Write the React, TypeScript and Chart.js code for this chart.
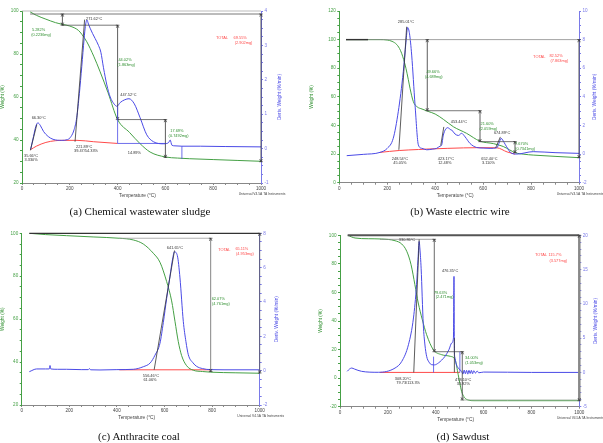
import { useEffect, useRef } from "react";
import { Chart, registerables } from "chart.js";

Chart.register(...registerables);

const SANS = "'Liberation Sans', Arial, sans-serif";
const SERIF = "'Liberation Serif', 'Times New Roman', serif";
const GREEN = "#45a045";
const GREEN_TEXT = "#2f8f2f";
const BLUE = "#4a4ae6";
const RED = "#ff4a4a";
const DARK = "#333";
const GRAY = "#8a8a8a";

// (a) Chemical wastewater sludge
const tempWeightA = [34, 60, 100, 140, 169, 200, 236, 250, 271, 300, 327, 360, 400, 450, 494, 536, 600, 650, 700, 800, 900, 1000];
const weightA = [99.6, 98.0, 96.2, 94.6, 93.8, 93.0, 91.0, 89.2, 85.7, 79.0, 71.7, 62.0, 49.5, 43.5, 38.3, 34.4, 32.1, 31.6, 31.3, 30.9, 30.5, 30.1];
const tempDerivA = [36, 48, 58, 66.3, 76, 90, 110, 130, 166, 190, 205, 218, 229, 240, 250, 260, 265, 271.62, 278, 285, 295, 306, 320, 330, 341, 355, 369, 385, 397, 411, 430, 447.52, 470, 494, 522, 550, 592, 606, 614, 620, 627, 640, 669, 746, 850, 1000];
const derivA = [-0.03, 0.35, 0.65, 0.75, 0.68, 0.5, 0.35, 0.27, 0.24, 0.26, 0.35, 0.55, 0.9, 1.6, 2.38, 3.2, 3.55, 3.74, 3.62, 3.5, 3.35, 3.2, 3.0, 2.8, 2.35, 1.85, 1.5, 1.3, 1.23, 1.34, 1.42, 1.45, 1.3, 0.9, 0.4, 0.2, 0.14, 0.15, 0.18, 0.25, 0.1, 0.08, 0.07, 0.07, 0.06, 0.05];
const tempBaseA = [36, 60, 100, 140, 169, 230, 300, 400];
const baseA = [-0.03, 0.07, 0.18, 0.23, 0.24, 0.24, 0.2, 0.15];

// (b) Waste electric wire
const tempWeightB = [28, 120, 170, 200, 220, 240, 255, 265, 278, 288, 295, 309, 325, 345, 371, 400, 434, 476, 531, 587, 643, 684, 710, 733, 770, 809, 900, 1000];
const weightB = [100, 100, 100, 99.7, 98.8, 96.5, 92.5, 88, 80, 72, 66, 56.6, 53, 51.5, 49.8, 48, 44.3, 39.1, 34.5, 29.0, 27.3, 25.3, 23, 21, 19.9, 19.3, 18.4, 17.5];
const tempDerivB = [31, 100, 170, 200, 225, 246, 267, 278, 285.01, 293, 302, 316, 330, 345, 365, 390, 406, 420, 427, 434, 453.44, 462, 469, 483, 497, 510, 525, 545, 573, 600, 629, 657, 666, 674.89, 688, 698, 719, 740, 809, 900, 1000];
const derivB = [-0.11, -0.02, 0.12, 0.4, 1.1, 2.96, 5.76, 7.8, 8.85, 8.4, 6.92, 3.43, 0.63, 0.4, 0.3, 0.35, 0.4, 0.55, 0.63, 1.33, 1.85, 1.72, 1.68, 1.4, 1.3, 1.45, 1.2, 0.75, 0.46, 0.42, 0.4, 0.44, 0.75, 1.1, 0.8, 0.51, 0.05, 0.0, 0.17, 0.1, 0.05];
const tempBaseB = [170, 250, 330, 365, 450, 587, 657, 700, 733];
const baseB = [0.12, 0.25, 0.32, 0.35, 0.4, 0.45, 0.44, 0.15, 0.0];

// (c) Anthracite coal
const tempWeightC = [32, 100, 189, 300, 410, 469, 511, 553, 581, 609, 630, 644, 658, 672, 693, 721, 760, 794, 900, 1000];
const weightC = [100, 99.4, 98.9, 98.3, 97.7, 96.9, 95.0, 90.7, 86.5, 77.5, 68.5, 59.0, 49.5, 43.0, 38.3, 36.2, 35.6, 35.3, 35.0, 34.8];
const tempDerivC = [32, 63, 100, 116, 119, 122, 150, 189, 250, 280, 284, 290, 329, 400, 469, 511, 540, 560, 581, 595, 609, 623, 634, 641.65, 654, 665, 679, 690, 700, 720, 735, 760, 791, 850, 1000];
const derivC = [-0.06, 0.1, 0.1, 0.1, 0.3, 0.1, 0.08, 0.08, 0.06, 0.06, 0.12, 0.05, 0.04, 0.06, 0.08, 0.23, 0.45, 0.9, 1.6, 2.8, 4.2, 5.5, 6.5, 6.92, 6.7, 5.4, 2.87, 1.7, 0.93, 0.45, 0.25, 0.12, 0.06, 0.05, 0.05];
const tempBaseC = [410, 794];
const baseC = [0.05, 0.05];

// (d) Sawdust
const tempWeightD = [32, 63, 118, 174, 230, 258, 279, 297, 313, 327, 344, 362, 390, 425, 460, 481, 494, 508, 520, 535, 560, 700, 1000];
const weightD = [100, 98.1, 97.6, 97.4, 96.2, 93.9, 88.8, 79.4, 65.4, 52.6, 40.9, 30.4, 19.9, 16.4, 15.3, 12.9, 2.4, -9.2, -13.5, -15.3, -15.8, -15.8, -15.8];
const tempDerivD = [30, 40, 49, 60, 90, 160, 230, 258, 286, 307, 320, 326, 330.86, 334, 339, 348, 355, 362, 372, 383, 395, 411, 425, 439, 455, 467, 474, 476.35, 478, 480, 485, 495, 508, 514, 519, 524, 529, 534, 539, 544, 549, 554, 559, 566, 573, 580, 600, 700, 800, 1000];
const derivD = [0.16, 0.5, 0.64, 0.5, 0.16, 0.02, 0.64, 1.6, 4.04, 7.94, 12.8, 16.5, 19.1, 18.0, 15.2, 7.0, 4.0, 2.35, 1.5, 1.13, 1.1, 1.37, 1.8, 2.35, 3.3, 4.3, 5.0, 14.0, 3.2, 2.2, 1.3, 0.6, 0.16, -0.25, 0.35, -0.2, 0.3, -0.25, 0.3, -0.15, 0.3, -0.2, 0.25, -0.1, 0.2, -0.05, 0.05, 0.03, 0.0, 0.0];
const tempBaseD = [167, 501];
const baseD = [0, 0];

type Axis = "yL" | "yR";
interface Mark { axis: Axis; pts: [number, number, number, number]; color: string; w?: number; arrow?: boolean }
interface Note { x: number; y: number; text: string; color: string }
interface Panel {
  caption: string;
  left: number; top: number; width: number; height: number;
  padTop: number; leftW: number; rightW: number; bottomH: number;
  yL: [number, number, number, number];
  yR: [number, number, number, number];
  titleL: number; titleR: number;
  weightT: number[]; weight: number[];
  derivT: number[]; deriv: number[];
  baseT: number[]; base: number[];
  marks: Mark[]; notes: Note[];
}

const panels: Panel[] = [
  {
    caption: "(a) Chemical wastewater sludge",
    left: 0, top: 0, width: 300, height: 222,
    padTop: 11, leftW: 22, rightW: 39, bottomH: 39,
    yL: [20, 100, 20, 5], yR: [-1, 4, 1, 0.25], titleL: 19, titleR: 19,
    weightT: tempWeightA, weight: weightA, derivT: tempDerivA, deriv: derivA, baseT: tempBaseA, base: baseA,
    marks: [
      { axis: "yL", pts: [0, 100, 1000, 100], color: "#aaa" },
      { axis: "yL", pts: [34, 98.6, 1000, 98.6], color: "#555" },
      { axis: "yL", pts: [169, 93.4, 400, 93.4], color: "#555" },
      { axis: "yL", pts: [400, 49.5, 600, 49.5], color: "#555" },
      { axis: "yL", pts: [169, 98.6, 169, 93.4], color: DARK, arrow: true },
      { axis: "yL", pts: [400, 93.4, 400, 49.5], color: DARK, arrow: true },
      { axis: "yL", pts: [600, 49.5, 600, 31.9], color: DARK, arrow: true },
      { axis: "yL", pts: [1000, 98.6, 1000, 29.9], color: DARK, arrow: true },
      { axis: "yR", pts: [221.9, 0.2, 262, 3.75], color: DARK },
      { axis: "yR", pts: [35, -0.05, 62, 0.7], color: DARK },
      { axis: "yR", pts: [400, 1.22, 400, 0.15], color: BLUE },
      { axis: "yR", pts: [400, 0.15, 600, 0.15], color: BLUE },
      { axis: "yR", pts: [669, 0.07, 669, -0.3], color: BLUE },
    ],
    notes: [
      { x: 302, y: 96.3, text: "271.62°C", color: DARK },
      { x: 70, y: 50.1, text: "66.30°C", color: DARK },
      { x: 38, y: 32.6, text: "35.66°C", color: DARK },
      { x: 38, y: 30.9, text: "3.330%", color: DARK },
      { x: 69, y: 91.1, text: "5.282%", color: GREEN_TEXT },
      { x: 80, y: 89.1, text: "(0.2236mg)", color: GREEN_TEXT },
      { x: 431, y: 77.2, text: "44.02%", color: GREEN_TEXT },
      { x: 436, y: 74.8, text: "(1.863mg)", color: GREEN_TEXT },
      { x: 445, y: 61.0, text: "447.52°C", color: DARK },
      { x: 260, y: 36.8, text: "221.89°C", color: DARK },
      { x: 268, y: 34.9, text: "39.47/54.33%", color: DARK },
      { x: 470, y: 34.0, text: "14.89%", color: DARK },
      { x: 648, y: 44.1, text: "17.69%", color: GREEN_TEXT },
      { x: 655, y: 41.9, text: "(0.7492mg)", color: GREEN_TEXT },
      { x: 837, y: 87.7, text: "TOTAL", color: RED },
      { x: 913, y: 87.7, text: "69.55%", color: RED },
      { x: 927, y: 85.2, text: "(2.902mg)", color: RED },
    ],
  },
  {
    caption: "(b) Waste electric wire",
    left: 303, top: 0, width: 300, height: 222,
    padTop: 11, leftW: 36.3, rightW: 24, bottomH: 39.3,
    yL: [0, 120, 20, 5], yR: [-2, 10, 2, 0.5], titleL: 27.6, titleR: 16,
    weightT: tempWeightB, weight: weightB, derivT: tempDerivB, deriv: derivB, baseT: tempBaseB, base: baseB,
    marks: [
      { axis: "yL", pts: [28, 100, 1000, 100], color: GRAY },
      { axis: "yL", pts: [28, 100, 120, 100], color: DARK, w: 1.4 },
      { axis: "yL", pts: [367, 100, 367, 50.3], color: DARK, arrow: true },
      { axis: "yL", pts: [367, 50.3, 587, 50.3], color: "#555" },
      { axis: "yL", pts: [587, 50.3, 587, 28.7], color: DARK, arrow: true },
      { axis: "yL", pts: [587, 28.7, 733, 28.7], color: "#555" },
      { axis: "yL", pts: [733, 28.7, 733, 21.0], color: DARK, arrow: true },
      { axis: "yL", pts: [1000, 100, 1000, 17.5], color: DARK, arrow: true },
      { axis: "yR", pts: [248.5, 0.3, 281, 8.9], color: DARK },
      { axis: "yR", pts: [423.2, 0.6, 436, 1.9], color: DARK },
      { axis: "yR", pts: [652.4, 0.44, 672, 1.2], color: DARK },
    ],
    notes: [
      { x: 278, y: 112.5, text: "285.01°C", color: DARK },
      { x: 391, y: 77.4, text: "49.66%", color: GREEN_TEXT },
      { x: 394, y: 74.2, text: "(4.689mg)", color: GREEN_TEXT },
      { x: 499, y: 42.4, text: "453.44°C", color: DARK },
      { x: 253, y: 16.8, text: "248.54°C", color: DARK },
      { x: 253, y: 14.0, text: "45.05%", color: DARK },
      { x: 445, y: 16.8, text: "423.17°C", color: DARK },
      { x: 440, y: 14.0, text: "12.48%", color: DARK },
      { x: 617, y: 41.0, text: "21.60%", color: GREEN_TEXT },
      { x: 622, y: 37.9, text: "(2.059mg)", color: GREEN_TEXT },
      { x: 679, y: 34.7, text: "674.89°C", color: DARK },
      { x: 761, y: 27.0, text: "7.670%", color: GREEN_TEXT },
      { x: 775, y: 23.7, text: "(0.7341mg)", color: GREEN_TEXT },
      { x: 626, y: 16.3, text: "652.40°C", color: DARK },
      { x: 622, y: 13.5, text: "3.110%", color: DARK },
      { x: 834, y: 87.6, text: "TOTAL", color: RED },
      { x: 904, y: 88.5, text: "82.52%", color: RED },
      { x: 918, y: 85.3, text: "(7.863mg)", color: RED },
    ],
  },
  {
    caption: "(c) Anthracite coal",
    left: 0, top: 222, width: 300, height: 221,
    padTop: 11.3, leftW: 21.7, rightW: 40.3, bottomH: 38,
    yL: [20, 100, 20, 5], yR: [-2, 8, 2, 0.5], titleL: 18.7, titleR: 17,
    weightT: tempWeightC, weight: weightC, derivT: tempDerivC, deriv: derivC, baseT: tempBaseC, base: baseC,
    marks: [
      { axis: "yL", pts: [32, 100, 1000, 100], color: DARK, w: 1.2 },
      { axis: "yL", pts: [410, 97.7, 794, 97.7], color: "#999" },
      { axis: "yL", pts: [794, 97.7, 794, 35.6], color: "#666", arrow: true },
      { axis: "yL", pts: [1000, 100, 1000, 34.9], color: "#555", arrow: true },
      { axis: "yR", pts: [556.5, 0.05, 642, 7.0], color: DARK },
    ],
    notes: [
      { x: 543, y: 33.5, text: "556.46°C", color: DARK },
      { x: 539, y: 31.6, text: "61.06%", color: DARK },
      { x: 644, y: 93.3, text: "641.65°C", color: DARK },
      { x: 851, y: 92.2, text: "TOTAL", color: RED },
      { x: 925, y: 92.9, text: "65.11%", color: RED },
      { x: 938, y: 90.5, text: "(4.953mg)", color: RED },
      { x: 826, y: 69.4, text: "62.07%", color: GREEN_TEXT },
      { x: 837, y: 67.1, text: "(4.761mg)", color: GREEN_TEXT },
    ],
  },
  {
    caption: "(d) Sawdust",
    left: 303, top: 222, width: 300, height: 221,
    padTop: 13.3, leftW: 37, rightW: 23.7, bottomH: 36.3,
    yL: [-20, 100, 20, 5], yR: [-5, 20, 5, 1], titleL: 19.3, titleR: 16.7,
    weightT: tempWeightD, weight: weightD, derivT: tempDerivD, deriv: derivD, baseT: tempBaseD, base: baseD,
    marks: [
      { axis: "yL", pts: [32, 100, 1000, 100], color: "#555", w: 2 },
      { axis: "yL", pts: [167, 97.2, 394, 97.2], color: GRAY },
      { axis: "yL", pts: [394, 97.2, 394, 18.5], color: "#444", arrow: true },
      { axis: "yL", pts: [394, 18.5, 511, 18.5], color: "#555" },
      { axis: "yL", pts: [511, 18.5, 511, -15.3], color: "#444", arrow: true },
      { axis: "yL", pts: [511, -15.3, 1000, -15.3], color: "#9aaa9a" },
      { axis: "yL", pts: [1000, 100, 1000, -15.8], color: "#888", w: 2.5, arrow: true },
      { axis: "yR", pts: [308.2, 0, 330.86, 19.4], color: DARK },
      { axis: "yR", pts: [478, 0, 478, 5], color: DARK },
      { axis: "yR", pts: [391, 2.3, 391, 0], color: BLUE },
      { axis: "yR", pts: [501, 3.0, 501, 0], color: BLUE },
    ],
    notes: [
      { x: 280, y: 96.8, text: "330.86°C", color: DARK },
      { x: 460, y: 75.2, text: "476.35°C", color: DARK },
      { x: 420, y: 59.8, text: "79.63%", color: GREEN_TEXT },
      { x: 437, y: 56.8, text: "(2.471mg)", color: GREEN_TEXT },
      { x: 263, y: -0.6, text: "308.20°C", color: DARK },
      { x: 285, y: -3.5, text: "79.73/113.3%", color: DARK },
      { x: 515, y: -1.3, text: "478.10°C", color: DARK },
      { x: 515, y: -4.1, text: "33.92%", color: DARK },
      { x: 550, y: 13.9, text: "34.00%", color: GREEN_TEXT },
      { x: 560, y: 10.4, text: "(1.053mg)", color: GREEN_TEXT },
      { x: 840, y: 86.2, text: "TOTAL", color: RED },
      { x: 898, y: 86.2, text: "115.7%", color: RED },
      { x: 912, y: 82.2, text: "(3.577mg)", color: RED },
    ],
  },
];

const majorOnly = (major: number) => (v: number | string) => {
  const n = Number(v);
  const r = n / major;
  return Math.abs(r - Math.round(r)) < 1e-6 ? String(Math.round(n * 100) / 100) : "";
};

function pairs(xs: number[], ys: number[]) {
  return xs.map((x, i) => ({ x, y: ys[i] }));
}

function TgaPanel({ p }: { p: Panel }) {
  const ref = useRef<HTMLCanvasElement | null>(null);

  useEffect(() => {
    if (!ref.current) return;

    const overlay = {
      id: "tgaOverlay",
      afterDatasetsDraw(chart: any) {
        const { ctx, chartArea, scales } = chart;
        const sx = scales.x;
        ctx.save();
        // measurement lines and tangents
        for (const m of p.marks) {
          const sy = scales[m.axis];
          const x1 = sx.getPixelForValue(m.pts[0]);
          const y1 = sy.getPixelForValue(m.pts[1]);
          const x2 = sx.getPixelForValue(m.pts[2]);
          const y2 = sy.getPixelForValue(m.pts[3]);
          ctx.strokeStyle = m.color;
          ctx.lineWidth = m.w ?? 0.8;
          ctx.beginPath();
          ctx.moveTo(x1, y1);
          ctx.lineTo(x2, y2);
          ctx.stroke();
          if (m.arrow) {
            const top = Math.min(y1, y2);
            const bot = Math.max(y1, y2);
            ctx.lineWidth = 0.7;
            ctx.strokeStyle = DARK;
            ctx.beginPath();
            ctx.moveTo(x1 - 1.3, top + 2.6);
            ctx.lineTo(x1, top);
            ctx.lineTo(x1 + 1.3, top + 2.6);
            ctx.moveTo(x1 - 1.3, bot - 2.6);
            ctx.lineTo(x1, bot);
            ctx.lineTo(x1 + 1.3, bot - 2.6);
            ctx.moveTo(x1 - 1.8, top);
            ctx.lineTo(x1 + 1.8, top);
            ctx.moveTo(x1 - 1.8, bot);
            ctx.lineTo(x1 + 1.8, bot);
            ctx.stroke();
          }
        }
        // value notes
        ctx.font = `3.9px ${SANS}`;
        ctx.textAlign = "center";
        ctx.textBaseline = "middle";
        for (const n of p.notes) {
          ctx.fillStyle = n.color;
          ctx.fillText(n.text, sx.getPixelForValue(n.x), scales.yL.getPixelForValue(n.y));
        }
        // axis titles
        const midY = (chartArea.top + chartArea.bottom) / 2;
        ctx.font = `4.8px ${SANS}`;
        ctx.fillStyle = GREEN_TEXT;
        ctx.save();
        ctx.translate(chartArea.left - p.titleL, midY);
        ctx.rotate(-Math.PI / 2);
        ctx.fillText("Weight (%)", 0, 0);
        ctx.restore();
        ctx.fillStyle = BLUE;
        ctx.save();
        ctx.translate(chartArea.right + p.titleR, midY);
        ctx.rotate(-Math.PI / 2);
        ctx.fillText("Deriv. Weight (%/min)", 0, 0);
        ctx.restore();
        ctx.fillStyle = "#444";
        ctx.fillText("Temperature (°C)", (chartArea.left + chartArea.right) / 2 - 4, chartArea.bottom + 13);
        ctx.font = `3.3px ${SANS}`;
        ctx.fillText("Universal V4.5A TA Instruments", chartArea.right + 1, chartArea.bottom + 11.5);
        ctx.restore();
      },
    };

    const yAxis = (range: [number, number, number, number], pos: "left" | "right", color: string, w: number) => ({
      type: "linear" as const,
      position: pos,
      min: range[0],
      max: range[1],
      afterFit: (s: any) => { s.width = w; },
      ticks: {
        stepSize: range[3],
        autoSkip: false,
        color,
        padding: 1.5,
        font: { size: 4.6, family: SANS },
        callback: majorOnly(range[2]),
      },
      grid: { drawOnChartArea: false, tickLength: 2, color },
      border: { color, width: 1 },
    });

    const chart = new Chart(ref.current, {
      type: "line",
      data: {
        datasets: [
          {
            data: pairs(p.derivT, p.deriv),
            yAxisID: "yR",
            borderColor: BLUE,
            borderWidth: 1,
            pointRadius: 0,
            cubicInterpolationMode: "monotone",
          },
          {
            data: pairs(p.weightT, p.weight),
            yAxisID: "yL",
            borderColor: GREEN,
            borderWidth: 1,
            pointRadius: 0,
            cubicInterpolationMode: "monotone",
          },
          {
            data: pairs(p.baseT, p.base),
            yAxisID: "yR",
            borderColor: RED,
            borderWidth: 1,
            pointRadius: 0,
            cubicInterpolationMode: "monotone",
          },
        ],
      },
      options: {
        responsive: false,
        animation: false,
        events: [],
        layout: { padding: { top: p.padTop, left: 0, right: 0, bottom: 0 } },
        plugins: { legend: { display: false }, tooltip: { enabled: false } },
        scales: {
          x: {
            type: "linear",
            min: 0,
            max: 1000,
            afterFit: (s: any) => { s.height = p.bottomH; },
            ticks: {
              stepSize: 50,
              autoSkip: false,
              maxRotation: 0,
              color: "#444",
              padding: 1,
              font: { size: 4.6, family: SANS },
              callback: majorOnly(200),
            },
            grid: { drawOnChartArea: false, tickLength: 2, color: "#888" },
            border: { color: "#888" },
          },
          yL: yAxis(p.yL, "left", GREEN, p.leftW),
          yR: yAxis(p.yR, "right", "#7a7ae8", p.rightW),
        },
      } as any,
      plugins: [overlay],
    });
    return () => chart.destroy();
  }, [p]);

  return (
    <canvas
      ref={ref}
      width={p.width}
      height={p.height}
      style={{ position: "absolute", left: p.left, top: p.top, width: p.width, height: p.height }}
    />
  );
}

export default function App() {
  const captionStyle = (cx: number, cy: number) => ({
    position: "absolute" as const,
    left: cx - 150,
    top: cy - 7,
    width: 300,
    textAlign: "center" as const,
    fontFamily: SERIF,
    fontSize: 11,
    lineHeight: "14px",
    color: "#111",
  });
  return (
    <div style={{ position: "absolute", left: 0, top: 0, width: 603, height: 443, background: "#fff", overflow: "hidden" }}>
      {panels.map((p) => (
        <TgaPanel key={p.caption} p={p} />
      ))}
      <div style={captionStyle(140, 211)}>{panels[0].caption}</div>
      <div style={captionStyle(460, 211)}>{panels[1].caption}</div>
      <div style={captionStyle(139, 436)}>{panels[2].caption}</div>
      <div style={captionStyle(463, 436)}>{panels[3].caption}</div>
    </div>
  );
}
